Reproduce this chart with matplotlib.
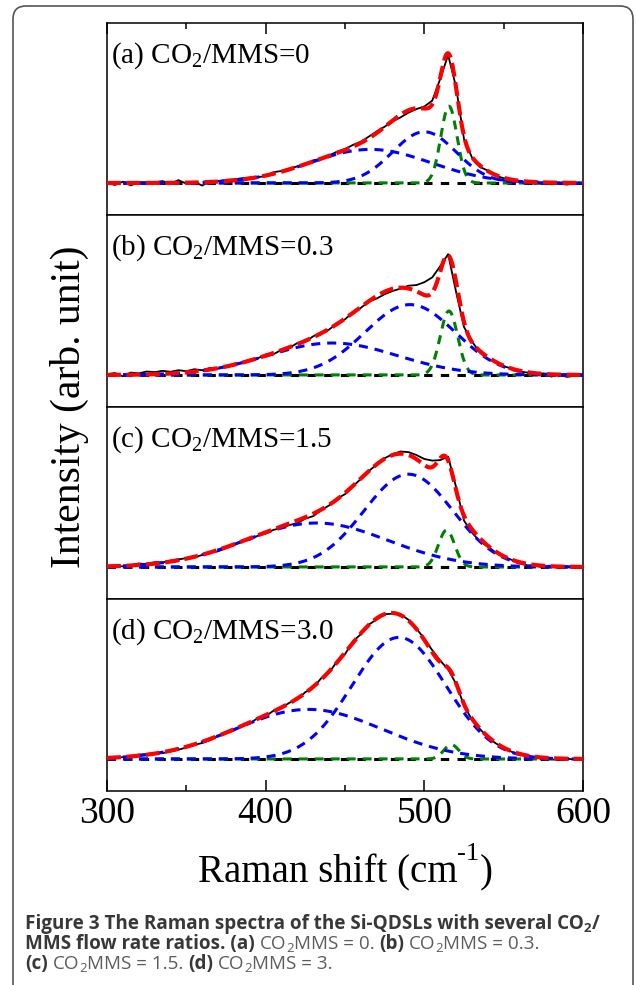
import numpy as np
import matplotlib
matplotlib.use("Agg")
import matplotlib.pyplot as plt
from matplotlib.patches import FancyBboxPatch
from matplotlib.font_manager import FontProperties

# Raman shift grid of the measured spectra (cm-1)
shift = np.arange(300, 601, 5)

# measured spectra, baseline-subtracted, one list per CO2/MMS ratio
spectrum_a = [0.000, -0.012, 0.008, -0.015, 0.005, -0.008, 0.004, 0.012, -0.006, 0.018,
              -0.004, 0.006, -0.016, 0.014, 0.012, 0.020, 0.022, 0.030, 0.034, 0.036,
              0.044, 0.068, 0.075, 0.090, 0.104, 0.118, 0.142, 0.150, 0.172, 0.196,
              0.212, 0.238, 0.258, 0.290, 0.322, 0.352, 0.385, 0.410, 0.440, 0.462,
              0.478, 0.515, 0.650, 0.800, 0.600, 0.275, 0.160, 0.100, 0.078, 0.045,
              0.030, 0.022, 0.008, 0.004, -0.006, 0.002, -0.008, -0.004, -0.010, -0.002,
              -0.006]
spectrum_b = [0.005, 0.012, -0.008, 0.015, 0.010, 0.022, 0.018, 0.026, 0.020, 0.030,
              0.024, 0.036, 0.030, 0.044, 0.040, 0.052, 0.070, 0.078, 0.095, 0.104,
              0.128, 0.130, 0.158, 0.170, 0.200, 0.208, 0.242, 0.265, 0.284, 0.325,
              0.348, 0.392, 0.420, 0.458, 0.478, 0.505, 0.525, 0.540, 0.558, 0.562,
              0.580, 0.610, 0.680, 0.755, 0.520, 0.300, 0.210, 0.140, 0.100, 0.080,
              0.055, 0.040, 0.022, 0.015, 0.004, 0.010, -0.010, 0.002, -0.012, -0.004,
              0.000]
spectrum_c = [0.000, 0.008, 0.004, 0.012, 0.022, 0.018, 0.030, 0.028, 0.040, 0.048,
              0.055, 0.060, 0.075, 0.090, 0.098, 0.118, 0.136, 0.160, 0.170, 0.195,
              0.212, 0.232, 0.245, 0.262, 0.275, 0.302, 0.318, 0.355, 0.385, 0.428,
              0.455, 0.505, 0.550, 0.600, 0.640, 0.680, 0.705, 0.722, 0.718, 0.700,
              0.675, 0.665, 0.668, 0.690, 0.500, 0.290, 0.215, 0.160, 0.128, 0.090,
              0.065, 0.045, 0.025, 0.010, 0.012, -0.004, 0.006, -0.008, 0.004, -0.006,
              0.002]
spectrum_d = [-0.005, 0.004, 0.012, 0.010, 0.028, 0.030, 0.038, 0.036, 0.048, 0.058,
              0.072, 0.088, 0.100, 0.118, 0.145, 0.160, 0.178, 0.205, 0.222, 0.256,
              0.268, 0.302, 0.318, 0.352, 0.372, 0.418, 0.445, 0.505, 0.540, 0.610,
              0.655, 0.735, 0.780, 0.840, 0.872, 0.905, 0.908, 0.905, 0.870, 0.815,
              0.752, 0.680, 0.615, 0.560, 0.470, 0.335, 0.245, 0.188, 0.135, 0.098,
              0.070, 0.045, 0.030, 0.018, 0.010, 0.005, -0.002, -0.006, 0.002, -0.004,
              0.006]
spectra = [spectrum_a, spectrum_b, spectrum_c, spectrum_d]

panel_tags = ["(a)", "(b)", "(c)", "(d)"]
ratios = ["0", "0.3", "1.5", "3.0"]

# fitted Gaussian components: centre (cm-1), sigma (cm-1), height
xtal_center = [515.5, 515.5, 514.0, 517.0]
xtal_sigma = [5.1, 5.5, 5.1, 4.7]
xtal_height = [0.48, 0.40, 0.23, 0.09]
amor1_center = [500.0, 491.0, 490.0, 484.0]
amor1_sigma = [20.0, 28.5, 28.0, 29.5]
amor1_height = [0.32, 0.44, 0.58, 0.76]
amor2_center = [466.0, 442.0, 432.0, 427.0]
amor2_sigma = [38.0, 41.0, 45.0, 46.0]
amor2_height = [0.21, 0.20, 0.275, 0.31]


def gauss(x, c, s, h):
    return h * np.exp(-(x - c) ** 2 / (2 * s ** 2))


W, H = 636, 985
SERIF = "Liberation Serif"

plt.rcParams["lines.scale_dashes"] = False
plt.rcParams["mathtext.fontset"] = "custom"
plt.rcParams["mathtext.rm"] = SERIF
plt.rcParams["mathtext.it"] = SERIF + ":italic"
plt.rcParams["mathtext.bf"] = SERIF + ":bold"


def fx(px):
    return px / W


def fy(py):
    return 1 - py / H


def put_runs(fig, x_px, y_px, runs, align="left"):
    """Write a line made of differently styled pieces, baseline at y_px."""
    renderer = fig.canvas.get_renderer()
    placed = []
    x = 0.0
    for s, style in runs:
        style = dict(style)
        rise = style.pop("rise", 0)
        fp = FontProperties(family=style["family"], size=style["size"],
                            weight=style.get("weight", "normal"))
        body = s.lstrip(" ")
        nlead = len(s) - len(body)
        if nlead:
            w2 = renderer.get_text_width_height_descent("n n", fp, ismath=False)[0]
            w1 = renderer.get_text_width_height_descent("nn", fp, ismath=False)[0]
            x += nlead * (w2 - w1)
        t = fig.text(fx(x_px + x), fy(y_px - rise), body, ha="left", va="baseline",
                     fontproperties=fp, color=style.get("color", "black"))
        placed.append((t, x))
        x += renderer.get_text_width_height_descent(body, fp, ismath=False)[0]
    if align == "center":
        for t, off in placed:
            t.set_x(fx(x_px - x / 2 + off))
    return x


fig, axes = plt.subplots(4, 1, figsize=(W / 100, H / 100), dpi=100, sharex=True)
fig.subplots_adjust(left=107 / W, right=583 / W, top=fy(23), bottom=fy(791), hspace=0)

fine = np.linspace(300, 600, 1201)

for i, ax in enumerate(axes):
    g = gauss(fine, xtal_center[i], xtal_sigma[i], xtal_height[i])
    b1 = gauss(fine, amor1_center[i], amor1_sigma[i], amor1_height[i])
    b2 = gauss(fine, amor2_center[i], amor2_sigma[i], amor2_height[i])
    total = g + b1 + b2

    ax.plot(shift, spectra[i], color="black", lw=1.3, zorder=2)
    ax.axhline(0, color="black", lw=2.2, dashes=(6, 6), zorder=3)
    ax.plot(fine, g, color="#008000", lw=2.2, dashes=(6.5, 5), zorder=4)
    ax.plot(fine, b2, color="#0000ff", lw=2.2, dashes=(6.5, 5), zorder=5)
    ax.plot(fine, b1, color="#0000ff", lw=2.2, dashes=(6.5, 5), zorder=5)
    ax.plot(fine, total, color="#ff0000", lw=3.0, dashes=(10, 4), zorder=6)

    ax.set_xlim(300, 600)
    ax.set_ylim(-0.2, 1.0)
    ax.set_yticks([])
    for sp in ax.spines.values():
        sp.set_linewidth(1.1)

    ax.text(0.008, 0.792, panel_tags[i] + r" CO$_2$/MMS=" + ratios[i],
            transform=ax.transAxes, fontsize=21, family=SERIF, va="baseline", ha="left")

    ax.set_xticks([300, 400, 500, 600])
    ax.set_xticks([350, 450, 550], minor=True)
    ax.tick_params(axis="x", which="both", direction="in", width=1.1,
                   bottom=(i == 3), top=(i == 0), labelbottom=(i == 3))
    ax.tick_params(axis="x", which="major", length=8)
    ax.tick_params(axis="x", which="minor", length=4.5)

axes[3].tick_params(axis="x", which="major", labelsize=27, pad=4)
for lab in axes[3].get_xticklabels():
    lab.set_family(SERIF)

# axis titles
fig.text(fx(80), fy(407), "Intensity (arb. unit)", rotation=90, rotation_mode="anchor",
         ha="center", va="baseline", fontsize=30, family=SERIF)

big = dict(family=SERIF, size=28)
sup = dict(family=SERIF, size=19, rise=22)
put_runs(fig, 345, 882, [("Raman shift (cm", big), ("-1", sup), (")", big)], align="center")

# caption
bold = dict(family="Open Sans", size=13.6, weight="bold", color="#383838")
bold_sub = dict(bold, size=9.5, rise=-3.5)
reg = dict(family="Open Sans", size=13.6, weight="normal", color="#5c5c5c")
reg_sub = dict(reg, size=9.5, rise=-3.5)

put_runs(fig, 25, 929, [("Figure 3 The Raman spectra of the Si-QDSLs with several CO", bold),
                        ("2", bold_sub), ("/", bold)])
put_runs(fig, 25, 949, [("MMS flow rate ratios. (a)", bold), (" CO", reg), ("2", reg_sub),
                        ("MMS = 0.", reg), (" (b)", bold), (" CO", reg), ("2", reg_sub),
                        ("MMS = 0.3.", reg)])
put_runs(fig, 25, 969, [("(c)", bold), (" CO", reg), ("2", reg_sub), ("MMS = 1.5.", reg),
                        (" (d)", bold), (" CO", reg), ("2", reg_sub), ("MMS = 3.", reg)])

# rounded frame around figure and caption
frame = FancyBboxPatch((0.13, -0.4), 6.20, 9.79 + 0.4,
                       boxstyle="round,pad=0,rounding_size=0.13",
                       transform=fig.dpi_scale_trans, fill=False,
                       edgecolor="#555555", lw=1.2)
fig.add_artist(frame)

fig.savefig("out.png", dpi=100)
